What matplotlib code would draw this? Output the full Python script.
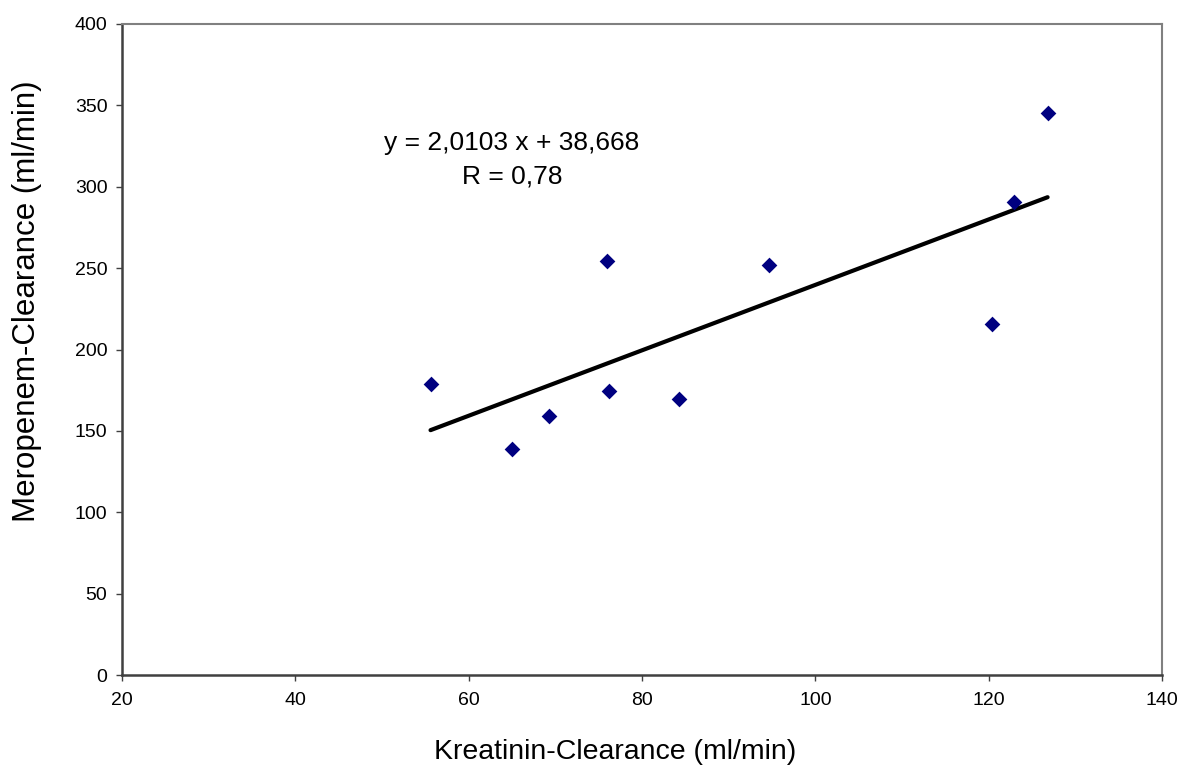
import matplotlib
matplotlib.use("Agg")
import matplotlib.pyplot as plt
import numpy as np

plt.rcParams['font.family'] = ['Liberation Sans', 'DejaVu Sans']

# Data
kreatinin = [55.6, 65.0, 69.3, 76.0, 76.2, 84.3, 94.7, 120.4, 122.9, 126.8]
meropenem = [178.6, 138.7, 159.1, 254.2, 174.5, 169.6, 251.9, 215.5, 290.8, 345.3]

slope = 2.0103
intercept = 38.668
eq_text = "y = 2,0103 x + 38,668"
r_text = "R = 0,78"

x_ticks = [20, 40, 60, 80, 100, 120, 140]
y_ticks = [0, 50, 100, 150, 200, 250, 300, 350, 400]

W, H = 1183, 767
fig = plt.figure(figsize=(W/100, H/100), dpi=100)
ax = fig.add_axes([122/W, 1-675/H, (1162-122)/W, (675-24)/H])

ax.scatter(kreatinin, meropenem, marker='D', s=8**2, color='#000080', zorder=3, linewidths=0)

xl = np.array([min(kreatinin), max(kreatinin)])
ax.plot(xl, slope*xl + intercept, color='black', lw=3, solid_capstyle='round', zorder=2)

ax.set_xlim(20, 140)
ax.set_ylim(0, 400)
ax.set_xticks(x_ticks)
ax.set_yticks(y_ticks)
ax.tick_params(direction='out', length=4.5, width=1, color='#404040', labelsize=14)
ax.tick_params(axis='x', pad=8)
ax.tick_params(axis='y', pad=6)

for s in ['top', 'right']:
    ax.spines[s].set_color('#808080')
    ax.spines[s].set_linewidth(1.5)
for s in ['left', 'bottom']:
    ax.spines[s].set_color('#404040')
    ax.spines[s].set_linewidth(1.8)

fig.text(615/W, 1-752/H, "Kreatinin-Clearance (ml/min)", ha='center', va='center', fontsize=20.5)
fig.text(27.5/W, 1-301.5/H, "Meropenem-Clearance (ml/min)", ha='center', va='center',
         rotation=90, fontsize=22.5)

ax.text(65.0, 326.9, eq_text, ha='center', va='center', fontsize=19)
ax.text(65.0, 306.0, r_text, ha='center', va='center', fontsize=19)

fig.savefig("out.png", dpi=100)
